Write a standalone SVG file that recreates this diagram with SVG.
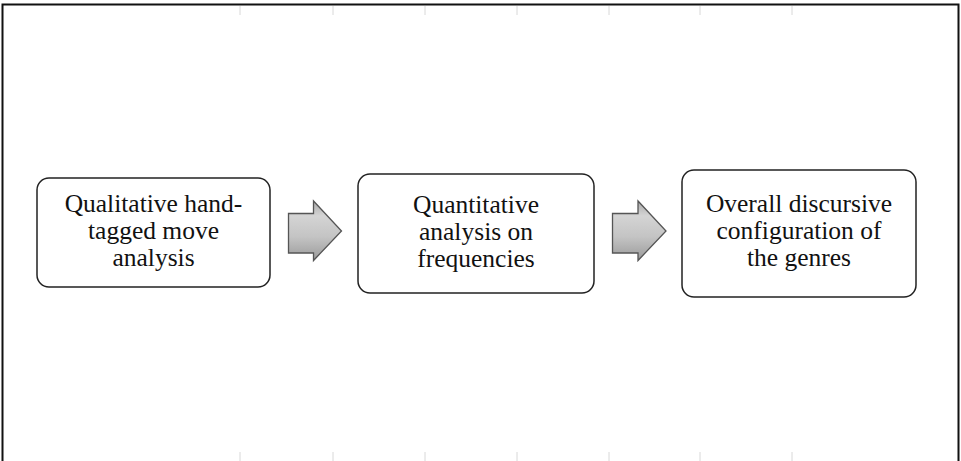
<svg xmlns="http://www.w3.org/2000/svg" width="961" height="461" viewBox="0 0 961 461">
<defs>
<linearGradient id="ag" x1="0" y1="0" x2="0" y2="1">
<stop offset="0" stop-color="#a9a9a9"/>
<stop offset="0.25" stop-color="#d4d4d4"/>
<stop offset="0.6" stop-color="#c4c4c4"/>
<stop offset="1" stop-color="#9a9a9a"/>
</linearGradient>
<style>
.box{fill:#fff;stroke:#222;stroke-width:1.5}
.t{font-family:"Liberation Serif","Times New Roman",serif;font-size:25.5px;fill:#111;text-anchor:middle}
.arr{fill:url(#ag);stroke:#555;stroke-width:1.3;stroke-linejoin:miter}
.tick{stroke:#d8d8d8;stroke-width:1}
</style>
</defs>
<rect x="0" y="0" width="961" height="461" fill="#fff"/>
<g id="frame">
<path d="M2.5 461 V4.5 H958.5 V461" fill="none" stroke="#111" stroke-width="2"/>
<g class="tick">
<line x1="240" y1="6" x2="240" y2="15"/><line x1="333" y1="6" x2="333" y2="15"/><line x1="425" y1="6" x2="425" y2="15"/><line x1="517" y1="6" x2="517" y2="15"/><line x1="609" y1="6" x2="609" y2="15"/><line x1="700" y1="6" x2="700" y2="15"/><line x1="792" y1="6" x2="792" y2="15"/>
<line x1="240" y1="452" x2="240" y2="461"/><line x1="333" y1="452" x2="333" y2="461"/><line x1="425" y1="452" x2="425" y2="461"/><line x1="517" y1="452" x2="517" y2="461"/><line x1="609" y1="452" x2="609" y2="461"/><line x1="700" y1="452" x2="700" y2="461"/><line x1="792" y1="452" x2="792" y2="461"/>
</g>
</g>
<g id="node1">
<rect class="box" x="37" y="178" width="233" height="109" rx="12"/>
<text class="t" x="153.5" y="212">Qualitative hand-</text>
<text class="t" x="153.5" y="239">tagged move</text>
<text class="t" x="153.5" y="266">analysis</text>
</g>
<g id="node2">
<rect class="box" x="358" y="174" width="236" height="119" rx="12"/>
<text class="t" x="476" y="213">Quantitative</text>
<text class="t" x="476" y="240">analysis on</text>
<text class="t" x="476" y="267">frequencies</text>
</g>
<g id="node3">
<rect class="box" x="682" y="170" width="234" height="127" rx="12"/>
<text class="t" x="799" y="212">Overall discursive</text>
<text class="t" x="799" y="239">configuration of</text>
<text class="t" x="799" y="266">the genres</text>
</g>
<g id="connectors">
<path class="arr" d="M288.5 213.5 H313.5 V201 L341.5 231 L313.5 260.5 V253 H288.5 Z"/>
<path class="arr" d="M612.5 213.5 H638 V201 L666 231 L638 260.5 V253 H612.5 Z"/>
</g>
</svg>
